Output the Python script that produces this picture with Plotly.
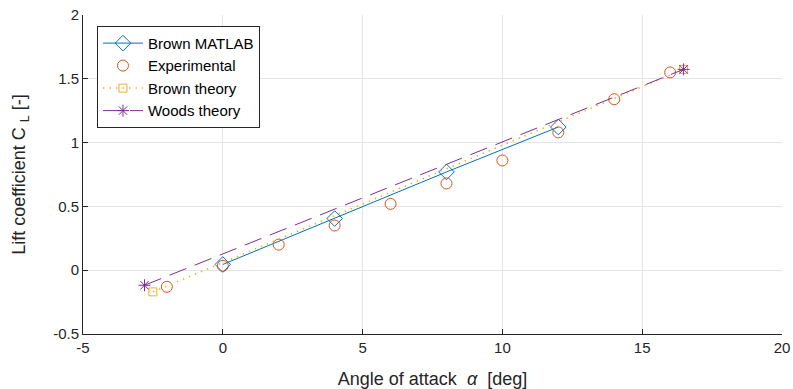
import plotly.graph_objects as go

# Brown MATLAB
bm_alpha = [0, 4, 8, 12]
bm_cl = [0.045, 0.405, 0.77, 1.122]

# Experimental
exp_alpha = [-2, 0, 2, 4, 6, 8, 10, 12, 14, 16]
exp_cl = [-0.13, 0.034, 0.20, 0.35, 0.52, 0.68, 0.86, 1.08, 1.34, 1.55]

# Brown theory
bt_alpha = [-2.5, 16.48]
bt_cl = [-0.17, 1.574]

# Woods theory
wt_alpha = [-2.8, 16.48]
wt_cl = [-0.118, 1.574]

x_ticks = [-5, 0, 5, 10, 15, 20]
y_ticks = [-0.5, 0, 0.5, 1, 1.5, 2]

BLUE = "#0072BD"
ORANGE = "#D95319"
YELLOW = "#EDB120"
PURPLE = "#7E2F8E"
FONT = "Liberation Sans, Arial, sans-serif"
AX = "#262626"

fig = go.Figure()
fig.add_trace(go.Scatter(
    x=bm_alpha, y=bm_cl, name="Brown MATLAB", mode="lines+markers",
    line=dict(color=BLUE, width=1),
    marker=dict(symbol="diamond-open", size=12, color=BLUE, line=dict(width=1, color=BLUE)),
))
fig.add_trace(go.Scatter(
    x=exp_alpha, y=exp_cl, name="Experimental", mode="markers",
    marker=dict(symbol="circle-open", size=11, color=ORANGE, line=dict(width=1, color=ORANGE)),
))
fig.add_trace(go.Scatter(
    x=bt_alpha, y=bt_cl, name="Brown theory", mode="lines+markers",
    line=dict(color=YELLOW, width=1.5, dash="1.5px,5px"),
    marker=dict(symbol="square-open", size=8, color=YELLOW, line=dict(width=1, color=YELLOW)),
))
fig.add_trace(go.Scatter(
    x=wt_alpha, y=wt_cl, name="Woods theory", mode="lines+markers",
    line=dict(color=PURPLE, width=1, dash="18px,9px"),
    marker=dict(symbol="asterisk-open", size=10, color=PURPLE, line=dict(width=1, color=PURPLE)),
))

fig.update_layout(
    width=793, height=389,
    margin=dict(l=83, r=11, t=15, b=55),
    paper_bgcolor="white", plot_bgcolor="white",
    font=dict(family=FONT, size=15, color=AX),
    legend=dict(
        x=0.02, y=0.966, xanchor="left", yanchor="top",
        bgcolor="white", bordercolor=AX, borderwidth=1,
        font=dict(family=FONT, size=15, color="black"),
        tracegroupgap=0, itemwidth=40,
    ),
)
fig.update_xaxes(
    range=[-5, 20], tickvals=x_ticks, ticktext=[str(t) for t in x_ticks],
    showgrid=True, gridcolor="#e5e5e5", gridwidth=1,
    showline=True, linecolor=AX, linewidth=1, mirror=False,
    ticks="inside", ticklen=5, tickcolor=AX, zeroline=False,
    automargin=False,
    title=dict(text="Angle of attack  <i>α</i>  [deg]", font=dict(size=18, family=FONT), standoff=20),
    tickfont=dict(size=15, family=FONT),
)
fig.update_yaxes(
    range=[-0.5, 2], tickvals=y_ticks, ticktext=[str(t) for t in y_ticks],
    showgrid=True, gridcolor="#e5e5e5", gridwidth=1,
    showline=True, linecolor=AX, linewidth=1, mirror=False,
    ticks="inside", ticklen=5, tickcolor=AX, zeroline=False,
    automargin=False,
    title=dict(text="Lift coefficient C <sub>L</sub> [-]", font=dict(size=18, family=FONT), standoff=22),
    tickfont=dict(size=15, family=FONT),
)

fig.write_html("out.html")
